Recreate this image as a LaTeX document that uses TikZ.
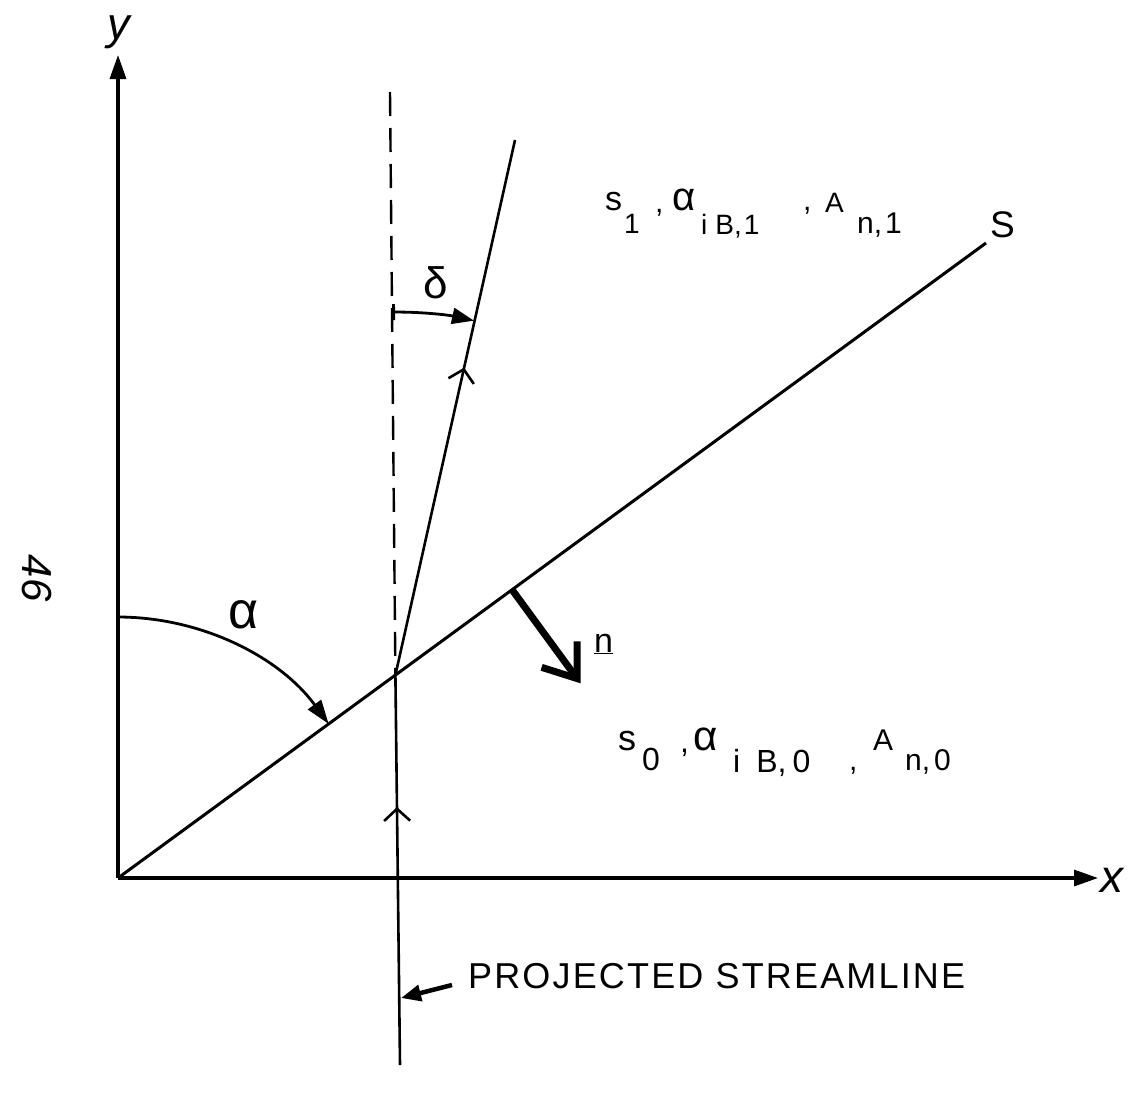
\documentclass[tikz,border=0pt]{standalone}
\usepackage{fontspec}
\setmainfont{Liberation Sans}
\newfontfamily\spaced[LetterSpace=6]{Liberation Sans}
\usetikzlibrary{arrows.meta,calc,decorations.markings}
\newcommand{\fsz}[1]{\fontsize{#1}{#1}\selectfont}
\tikzset{chev/.tip={Straight Barb[length=12pt,width=26pt]}}
\begin{document}
\begin{tikzpicture}[x=1pt,y=-1pt,
  axisln/.style={line width=3.2pt,-{Triangle[length=24pt,width=16pt]}},
  sline/.style={line width=3pt},
  strl/.style={line width=2.6pt},
  dashln/.style={line width=2.4pt,dash pattern=on 24pt off 12pt},
  arcln/.style={line width=2.8pt},
  lbl/.style={inner sep=0pt,anchor=base west},
]
\useasboundingbox (0,0) rectangle (1132,1095);
% key points
\coordinate (O) at (118,878);
\coordinate (Yt) at (118,55);
\coordinate (Xt) at (1098,878);
\coordinate (Send) at (986,243);
\coordinate (P) at ($(O)!0.3196!(Send)$);
\coordinate (Sb) at (400,1065);
\coordinate (St) at (515,140);
\coordinate (Dt) at (390,92);
\coordinate (N0) at ($(O)!0.454!(Send)$);
\coordinate (Nt) at ($(N0)+(68.5,93.6)$);
\coordinate (Pa) at (452,985);
\coordinate (Ph) at (401,998);

% axes
\draw[axisln] (O) -- (Yt);
\draw[axisln] (O) -- (Xt);
% line S
\draw[sline] (O) -- (Send);
% dashed vertical
\draw[dashln] (Dt) -- (P);
% projected streamline
\draw[strl,postaction={decorate},decoration={markings,
   mark=at position 258pt with {\arrow{chev}},
   mark=at position 705pt with {\arrow{chev}}}]
   (Sb) -- (P) -- (St);
% delta arc
\draw[arcln,{Bar[width=16pt]}-{Triangle[length=22pt,width=16pt]}]
   (P) ++(-90.5:363) arc[start angle=-90.5,end angle=-77.5,radius=363];
% alpha arc
\draw[arcln,-{Triangle[length=24pt,width=16pt]}]
   (O) ++(-90:261) arc[start angle=-90,end angle=-36.19,radius=261];
% normal n
\draw[line width=7pt,-{Straight Barb[length=30pt,width=44pt]}] (N0) -- (Nt);
% projected streamline pointer
\draw[line width=4.5pt,-{Triangle[length=20pt,width=16pt]}] (Pa) -- (Ph);

% labels
\node[lbl,font=\itshape\fsz{45}] (ylab) at (107,39) {y};
\node[lbl,font=\itshape\fsz{46}] (xlab) at (1100,892) {x};
\node[lbl,font=\fsz{37}] (Slab) at (990,237) {S};
\node[lbl,font=\fsz{44}] (dlab) at (423,298) {δ};
\node[lbl,font=\fsz{52}] (alab) at (228,628) {α};
\node[lbl,font=\fsz{34}] (nlab) at (594,652) {\underline{n}};
\node[lbl,font=\spaced\fsz{36}] (plab) at (468,988) {PROJECTED STREAMLINE};
\node[font=\itshape\fsz{42},rotate=-90,inner sep=0pt] (pnum) at (37,578) {46};

% upper state label
\node[lbl,font=\fsz{34}] (u1) at (605,210) {s};
\node[lbl,font=\fsz{28}] (u2) at (624,233) {1};
\node[lbl,font=\fsz{30}] (u3) at (655,212) {,};
\node[lbl,font=\fsz{40}] (u4) at (672,210) {α};
\node[lbl,font=\fsz{28}] (u5) at (701,234) {i\hspace{8pt}B,\hspace{2pt}1};
\node[lbl,font=\fsz{30}] (u6) at (803,210) {,};
\node[lbl,font=\fsz{28}] (u7) at (825,212) {A};
\node[lbl,font=\fsz{30}] (u8) at (857,233) {n,\hspace{3pt}1};

% lower state label
\node[lbl,font=\fsz{36}] (l1) at (618,750) {s};
\node[lbl,font=\fsz{32}] (l2) at (642,770) {0};
\node[lbl,font=\fsz{32}] (l3) at (680,752) {,};
\node[lbl,font=\fsz{42}] (l4) at (693,750) {α};
\node[lbl,font=\fsz{32}] (l5) at (733,772) {i\hspace{16pt}B,\hspace{6pt}0};
\node[lbl,font=\fsz{30}] (l6) at (849,770) {,};
\node[lbl,font=\fsz{30}] (l7) at (873,750) {A};
\node[lbl,font=\fsz{30}] (l8) at (905,770) {n,\hspace{4pt}0};
\end{tikzpicture}
\end{document}
